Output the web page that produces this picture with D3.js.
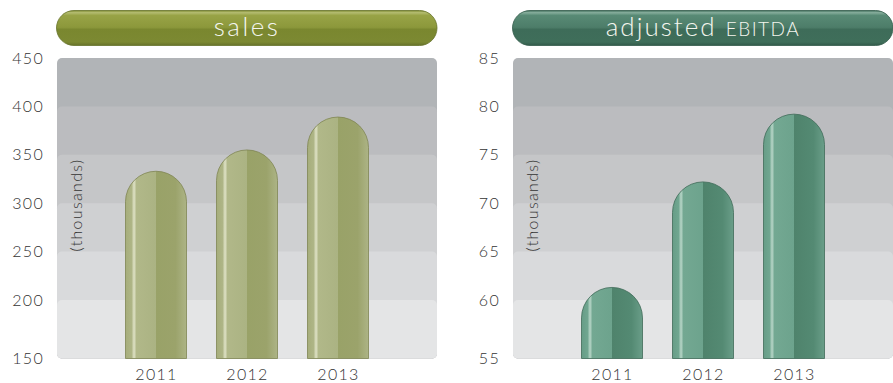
<!DOCTYPE html>
<html>
<head>
<meta charset="utf-8">
<script src="https://cdn.jsdelivr.net/npm/d3@7"></script>
<style>
  html, body { margin: 0; padding: 0; background: #ffffff; }
  svg { display: block; }
  text { font-family: "Lato", sans-serif; font-weight: 300; }
</style>
</head>
<body>
<svg id="chart" width="893" height="383"></svg>
<script>
// Years shown on both panels
const years = ["2011", "2012", "2013"];

// Sales (thousands)
const salesValues = [333, 355, 389];
const salesTicks = [150, 200, 250, 300, 350, 400, 450];

// Adjusted EBITDA (thousands)
const ebitdaValues = [61.3, 72.2, 79.2];
const ebitdaTicks = [55, 60, 65, 70, 75, 80, 85];

const svg = d3.select("#chart");
const defs = svg.append("defs");

// Panel geometry
const plotTop = 58, plotBottom = 358.5, plotWidth = 380;
const bandColors = ["#b1b4b7", "#bbbcbf", "#c5c6c8", "#cfd0d2", "#d9dadc", "#e4e5e6"];
const labelColor = "#333333";

const themes = {
  olive: {
    pill: [["0%", "#7f8b32"], ["6%", "#b4bc70"], ["14%", "#98a346"], ["48%", "#8c983b"], ["54%", "#7a872f"], ["90%", "#7c8932"], ["100%", "#66722a"]],
    pillStroke: "#66722a",
    bar: [["0%", "#a6ad7b"], ["10%", "#aeb586"], ["14%", "#dfe2c6"], ["18%", "#b1b889"], ["49.5%", "#abb383"], ["50.5%", "#99a268"], ["82%", "#9ba36b"], ["100%", "#adb486"]],
    barStroke: "#7f8553"
  },
  teal: {
    pill: [["0%", "#3f6d5a"], ["6%", "#86ad9c"], ["14%", "#588a75"], ["48%", "#4d7d69"], ["54%", "#3e6c59"], ["90%", "#3f6e5a"], ["100%", "#325a4a"]],
    pillStroke: "#325a4a",
    bar: [["0%", "#679d87"], ["10%", "#70a690"], ["14%", "#b8d6c8"], ["18%", "#73a892"], ["49.5%", "#6da38d"], ["50.5%", "#4f836c"], ["82%", "#548a73"], ["100%", "#6a9e89"]],
    barStroke: "#3f6b58"
  }
};

function addGradient(id, stops, vertical) {
  const g = defs.append("linearGradient").attr("id", id)
    .attr("x1", 0).attr("y1", 0)
    .attr("x2", vertical ? 0 : 1).attr("y2", vertical ? 1 : 0);
  stops.forEach(([o, c]) => g.append("stop").attr("offset", o).attr("stop-color", c));
}

Object.entries(themes).forEach(([k, t]) => {
  addGradient("pill-" + k, t.pill, true);
  addGradient("bar-" + k, t.bar, false);
});

function styleLabels(sel) {
  sel.attr("fill", labelColor)
    .style("font-size", "16px")
    .style("font-family", "Lato, sans-serif")
    .style("font-weight", 300)
    .style("letter-spacing", "1.3px");
}

function drawPanel(opts) {
  const { x0, values, ticks, theme, title } = opts;
  const g = svg.append("g");
  const n = ticks.length;

  // Bottom step of the axis is stretched taller than the others
  const y = d3.scaleLinear()
    .domain([ticks[0], ticks[1], ticks[n - 1]])
    .range([plotBottom, 300, plotTop]);

  const x = d3.scalePoint()
    .domain(years)
    .range([x0 + 99, x0 + 281]);

  const barWidth = 61;
  const r = barWidth / 2;

  // Title pill
  const pill = g.append("g");
  pill.append("rect")
    .attr("x", x0 - 0.5).attr("y", 10.5)
    .attr("width", plotWidth + 0.5).attr("height", 35)
    .attr("rx", 17.5)
    .attr("fill", "url(#pill-" + theme + ")")
    .attr("stroke", themes[theme].pillStroke)
    .attr("stroke-width", 0.8);
  const tt = pill.append("text")
    .attr("x", x0 + plotWidth / 2)
    .attr("y", 36)
    .attr("text-anchor", "middle")
    .attr("fill", "#f4f5ee");
  title.forEach(part => {
    tt.append("tspan")
      .style("font-size", part.size + "px")
      .style("letter-spacing", part.spacing + "px")
      .text(part.text);
  });

  // Stacked grey bands, one per tick step
  const bands = ticks.slice(1).reverse();
  g.append("g").selectAll("rect")
    .data(bands)
    .join("rect")
    .attr("x", x0)
    .attr("y", d => y(d))
    .attr("width", plotWidth)
    .attr("height", d => plotBottom - y(d))
    .attr("rx", 5)
    .attr("fill", (d, i) => bandColors[i]);

  // Y axis labels
  const yAxis = d3.axisLeft(y).tickValues(ticks).tickSize(0).tickPadding(13);
  const ya = g.append("g")
    .attr("transform", `translate(${x0},0)`)
    .call(yAxis);
  ya.select(".domain").remove();
  styleLabels(ya.selectAll("text"));

  // Units label
  styleLabels(g.append("text")
    .attr("transform", `translate(${x0 + 25},${205}) rotate(-90)`)
    .attr("text-anchor", "middle")
    .style("letter-spacing", "0.8px")
    .text("(thousands)"));
  g.select("text:last-child").style("letter-spacing", "0.8px");

  // Capsule bars
  g.append("g").selectAll("path")
    .data(values)
    .join("path")
    .attr("d", (v, i) => {
      const cx = x(years[i]);
      const left = cx - r, right = cx + r;
      const top = y(v);
      return `M${left},${plotBottom} L${left},${top + r} A${r},${r} 0 0 1 ${right},${top + r} L${right},${plotBottom} Z`;
    })
    .attr("fill", "url(#bar-" + theme + ")")
    .attr("stroke", themes[theme].barStroke)
    .attr("stroke-width", 0.8);

  // X axis labels
  const xAxis = d3.axisBottom(x).tickSize(0).tickPadding(10);
  const xa = g.append("g")
    .attr("transform", `translate(0,${plotBottom})`)
    .call(xAxis);
  xa.select(".domain").remove();
  styleLabels(xa.selectAll("text"));
}

drawPanel({
  x0: 57, values: salesValues, ticks: salesTicks, theme: "olive",
  title: [{ text: "sales", size: 26, spacing: 2.5 }]
});

drawPanel({
  x0: 513, values: ebitdaValues, ticks: ebitdaTicks, theme: "teal",
  title: [{ text: "adjusted ", size: 26, spacing: 2 }, { text: "EBITDA", size: 19, spacing: 1.5 }]
});
</script>
</body>
</html>
